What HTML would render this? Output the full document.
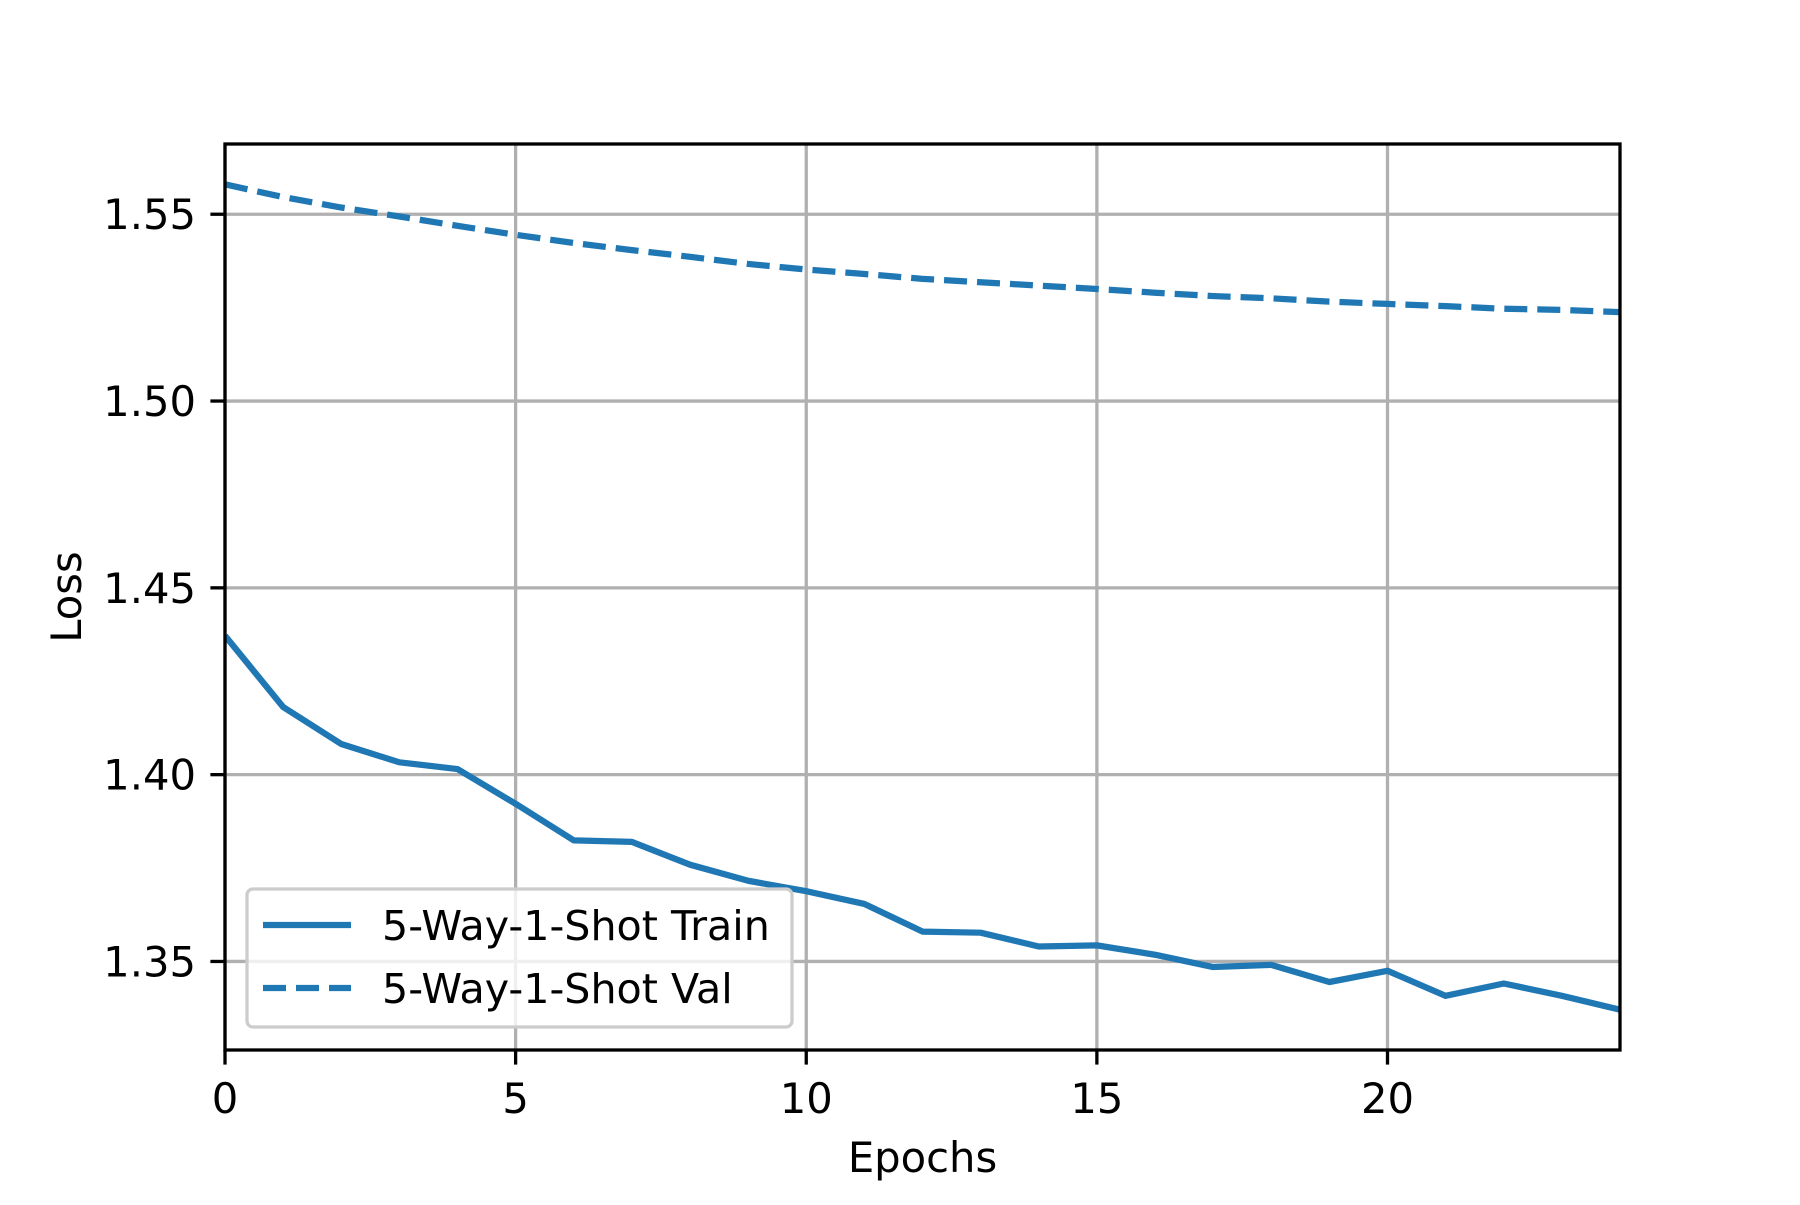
<!DOCTYPE html>
<html><head><meta charset="utf-8"><style>
html,body{margin:0;padding:0;background:#fff;}
svg text{font-family:"DejaVu Sans","Liberation Sans",sans-serif;fill:#000;}
</style></head><body>
<svg id="chart" width="1800" height="1200" viewBox="0 0 1800 1200" xmlns="http://www.w3.org/2000/svg">
<rect width="1800" height="1200" fill="#fff"/>
<g id="grid"></g>
<g id="series"></g>
<g id="axes"></g>
<g id="legend"></g>
</svg>
<script>
const epochs = [0,1,2,3,4,5,6,7,8,9,10,11,12,13,14,15,16,17,18,19,20,21,22,23,24];
const trainLoss = [1.4372,1.4181,1.4082,1.4033,1.4015,1.3922,1.3824,1.3820,1.3759,1.3716,1.3688,1.3654,1.3580,1.3577,1.3540,1.3543,1.3518,1.3485,1.3491,1.3445,1.3475,1.3408,1.3441,1.3408,1.3371];
const valLoss = [1.5580,1.5546,1.5518,1.5494,1.5469,1.5445,1.5423,1.5404,1.5386,1.5367,1.5352,1.5340,1.5327,1.5318,1.5309,1.5300,1.5290,1.5281,1.5275,1.5266,1.5260,1.5254,1.5247,1.5244,1.5238];
const xTicks = [0,5,10,15,20];
const yTicks = [1.35,1.40,1.45,1.50,1.55];
const yTickLabels = ["1.35","1.40","1.45","1.50","1.55"];

const L=225,R=1620,T=144,B=1050;
const xMin=0,xMax=24,yMin=1.3263,yMax=1.5688;
const sx=v=>L+(v-xMin)/(xMax-xMin)*(R-L);
const sy=v=>B-(v-yMin)/(yMax-yMin)*(B-T);
const NS="http://www.w3.org/2000/svg";
function mk(tag,attrs,parent,text){const e=document.createElementNS(NS,tag);for(const k in attrs)e.setAttribute(k,attrs[k]);if(text!==undefined)e.textContent=text;parent.appendChild(e);return e;}
const grid=document.getElementById('grid'),series=document.getElementById('series'),axes=document.getElementById('axes'),legend=document.getElementById('legend');

xTicks.forEach(t=>{
  const g=mk('line',{x1:sx(t),x2:sx(t),y1:T,y2:B,stroke:'#b0b0b0','stroke-width':3.3},grid);
  
  
  const tk=mk('line',{x1:sx(t),x2:sx(t),y1:B,y2:B+14.6,stroke:'#000','stroke-width':3.3},axes);
  
  
  const lb=mk('text',{x:sx(t),y:B+63,'font-size':41.7,'text-anchor':'middle'},axes,String(t));
  
  
});
yTicks.forEach((t,i)=>{
  const g=mk('line',{x1:L,x2:R,y1:sy(t),y2:sy(t),stroke:'#b0b0b0','stroke-width':3.3},grid);
  
  
  const tk=mk('line',{x1:L-14.6,x2:L,y1:sy(t),y2:sy(t),stroke:'#000','stroke-width':3.3},axes);
  
  
  const lb=mk('text',{x:L-29,y:sy(t)+15,'font-size':41.7,'text-anchor':'end'},axes,yTickLabels[i]);
  
  
});
const pts=a=>a.map((v,i)=>sx(epochs[i])+','+sy(v)).join(' ');
const clip=mk('clipPath',{id:'plotclip'},document.getElementById('chart'));
mk('rect',{x:L,y:T,width:R-L,height:B-T},clip);
const tr=mk('polyline',{points:pts(trainLoss),fill:'none',stroke:'#1f77b4','stroke-width':6.25,'stroke-linejoin':'round','clip-path':'url(#plotclip)'},series);


const vl=mk('polyline',{points:pts(valLoss),fill:'none',stroke:'#1f77b4','stroke-width':6.25,'stroke-dasharray':'23 10','clip-path':'url(#plotclip)'},series);



const fr=mk('rect',{x:L,y:T,width:R-L,height:B-T,fill:'none',stroke:'#000','stroke-width':3.3},axes);


const xt=mk('text',{x:(L+R)/2,y:1172,'font-size':41.7,'text-anchor':'middle'},axes,'Epochs');


const yt=mk('text',{x:0,y:0,'font-size':41.7,'text-anchor':'middle',transform:'translate(81,'+((T+B)/2)+') rotate(-90)'},axes,'Loss');



const lb=mk('rect',{x:247,y:889,width:545,height:138,rx:6,fill:'#fff','fill-opacity':0.8,stroke:'#cccccc','stroke-width':3.3},legend);


const l1=mk('line',{x1:263,x2:351,y1:925,y2:925,stroke:'#1f77b4','stroke-width':6.25},legend);


const t1=mk('text',{x:382,y:940,'font-size':41.2},legend,'5-Way-1-Shot Train');


const l2=mk('line',{x1:263,x2:351,y1:988,y2:988,stroke:'#1f77b4','stroke-width':6.25,'stroke-dasharray':'23 10'},legend);


const t2=mk('text',{x:382,y:1003,'font-size':41.2},legend,'5-Way-1-Shot Val');


</script>
</body></html>
